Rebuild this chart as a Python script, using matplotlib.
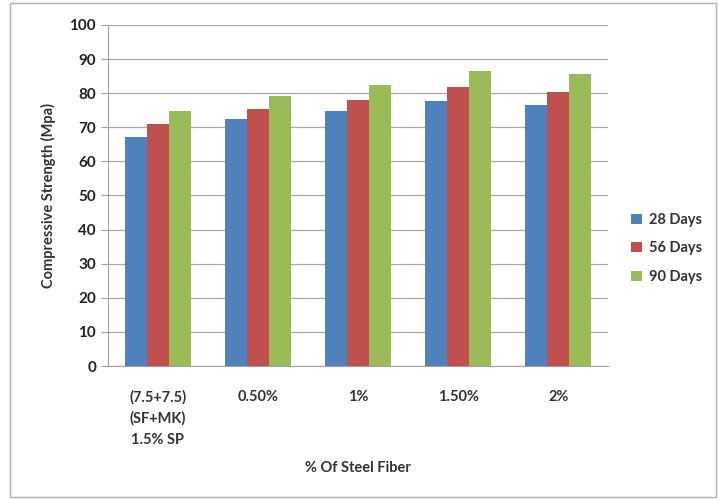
import matplotlib
matplotlib.use("Agg")
import matplotlib.pyplot as plt
import numpy as np
from matplotlib.patches import Rectangle

categories = ["(7.5+7.5)\n(SF+MK)\n1.5% SP", "0.50%", "1%", "1.50%", "2%"]
series_names = ["28 Days", "56 Days", "90 Days"]
days28 = [67.3, 72.4, 74.7, 77.7, 76.6]
days56 = [71.0, 75.4, 77.9, 81.9, 80.4]
days90 = [74.9, 79.1, 82.4, 86.5, 85.6]
colors = ["#4F81BD", "#C0504D", "#9BBB59"]
yticks = list(range(0, 101, 10))

plt.rcParams['font.family'] = ['Lato', 'DejaVu Sans']

fig = plt.figure(figsize=(7.19, 5.0), dpi=100)
fig.patch.set_facecolor("white")
fig.patches.append(Rectangle((10/719, 3/500), 706/719, 494/500, transform=fig.transFigure,
                             fill=False, edgecolor="#B0B0B0", linewidth=1.0))
ax = fig.add_axes([0.150, 0.268, 0.696, 0.682])

x = np.arange(len(categories))
w = 0.22
for i, (vals, name) in enumerate(zip([days28, days56, days90], series_names)):
    ax.bar(x + (i - 1) * w, vals, width=w, color=colors[i], label=name, zorder=3)

ax.set_xlim(-0.5, len(categories) - 0.5)
ax.set_ylim(0, 100)
ax.set_yticks(yticks)
ax.set_xticks(x)
ax.set_xticklabels(categories, fontsize=10.5, fontweight='bold', color="#333333", linespacing=1.65)
ax.tick_params(axis='y', labelsize=11, length=5, color="#A0A0A0", labelcolor="#222222", width=0.8)
for t in ax.get_yticklabels():
    t.set_fontweight('bold')
ax.tick_params(axis='x', length=0, pad=17)
ax.grid(axis='y', color="#A8A8A8", linewidth=0.9, zorder=0)
for s in ['top', 'right']:
    ax.spines[s].set_visible(False)
ax.spines['left'].set_color("#A0A0A0")
ax.spines['bottom'].set_color("#A0A0A0")

ax.set_ylabel("Compressive Strength (Mpa)", fontsize=10.5, fontweight='bold', color="#333333", labelpad=10)
ax.set_xlabel("% Of Steel Fiber", fontsize=10.5, fontweight='bold', color="#333333", labelpad=10)

leg = ax.legend(loc='center left', bbox_to_anchor=(1.02, 0.345), frameon=False,
                handlelength=0.7, handleheight=0.7, handletextpad=0.5, labelspacing=1.0,
                prop={'size': 10.5, 'weight': 'bold'})
for t in leg.get_texts():
    t.set_color("#333333")

fig.savefig("out.png", dpi=100, facecolor="white")
